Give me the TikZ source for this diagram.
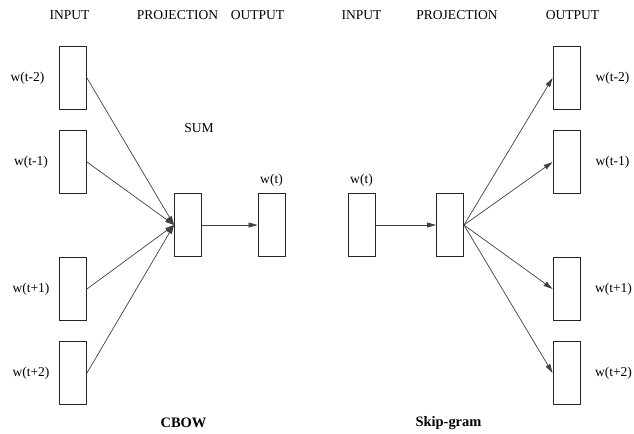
\documentclass[tikz,border=0pt]{standalone}
\usepackage{fontspec}
\setmainfont{Liberation Serif}
\usetikzlibrary{arrows.meta}
\begin{document}
\begin{tikzpicture}[x=1bp,y=-1bp,
  box/.style={draw=black!85,line width=0.9bp,minimum width=27bp,minimum height=63bp,inner sep=0pt},
  lbl/.style={font=\fontsize{13.6}{15}\selectfont,inner sep=0pt},
  ttl/.style={font=\fontsize{14.5}{16}\selectfont\bfseries,inner sep=0pt},
  conn/.style={draw=black!75,line width=0.7bp,-{Triangle[length=9bp,width=5bp]}}]
\useasboundingbox (0,0) rectangle (634,434);
% CBOW
\node[lbl] (h1) at (69.5,15) {INPUT};
\node[lbl] (h2) at (177.5,15) {PROJECTION};
\node[lbl] (h3) at (257.5,15) {OUTPUT};
\node[lbl] (sum) at (199,128) {SUM};
\node[box] (in1) at (73,78) {};
\node[box] (in2) at (73,162) {};
\node[box] (in3) at (73,289) {};
\node[box] (in4) at (73,373) {};
\node[lbl] (l1) at (27.5,78) {w(t-2)};
\node[lbl] (l2) at (31,162) {w(t-1)};
\node[lbl] (l3) at (31,289) {w(t+1)};
\node[lbl] (l4) at (31,373) {w(t+2)};
\node[box] (proj) at (188,225) {};
\node[box] (out) at (271.5,225) {};
\node[lbl] (wt1) at (271.5,180) {w(t)};
\node[ttl] (cbow) at (183.5,423) {CBOW};
\draw[conn] (in1.east) -- (proj.west);
\draw[conn] (in2.east) -- (proj.west);
\draw[conn] (in3.east) -- (proj.west);
\draw[conn] (in4.east) -- (proj.west);
\draw[conn] (proj.east) -- (out.west);
% Skip-gram
\node[lbl] (g1) at (361.5,15) {INPUT};
\node[lbl] (g2) at (457,15) {PROJECTION};
\node[lbl] (g3) at (572.5,15) {OUTPUT};
\node[box] (sin) at (361.5,225) {};
\node[lbl] (wt2) at (361.5,180) {w(t)};
\node[box] (sproj) at (450,225) {};
\node[box] (o1) at (566.5,78) {};
\node[box] (o2) at (566.5,162) {};
\node[box] (o3) at (566.5,289) {};
\node[box] (o4) at (566.5,373) {};
\node[lbl] (r1) at (612.5,78) {w(t-2)};
\node[lbl] (r2) at (612.5,162) {w(t-1)};
\node[lbl] (r3) at (613.5,289) {w(t+1)};
\node[lbl] (r4) at (613.5,373) {w(t+2)};
\node[ttl] (skip) at (448.5,423) {Skip-gram};
\draw[conn] (sin.east) -- (sproj.west);
\draw[conn] (sproj.east) -- (o1.west);
\draw[conn] (sproj.east) -- (o2.west);
\draw[conn] (sproj.east) -- (o3.west);
\draw[conn] (sproj.east) -- (o4.west);
\end{tikzpicture}
\end{document}
